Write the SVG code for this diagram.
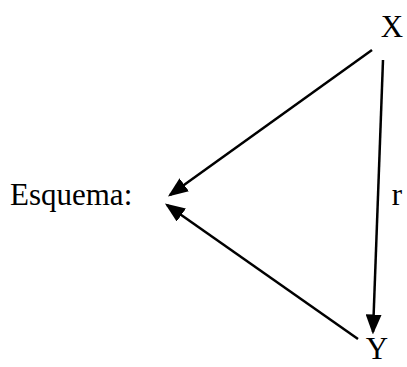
<svg xmlns="http://www.w3.org/2000/svg" width="407" height="367" viewBox="0 0 407 367">
<defs>
<style>
text{font-family:"Liberation Serif","Times New Roman",serif;font-size:31px;fill:#000}
.c{stroke:#000;stroke-width:2.5;fill:none}
</style>
<marker id="ah" markerWidth="8" markerHeight="6.4" refX="7" refY="3.2" orient="auto" markerUnits="strokeWidth">
<path d="M0,0 L8,3.2 L0,6.4 Z" fill="#000"/>
</marker>
</defs>
<rect width="407" height="367" fill="#fff"/>
<g id="X"><text x="392" y="37" text-anchor="middle">X</text></g>
<g id="Y"><text x="377" y="359" text-anchor="middle">Y</text></g>
<g id="Esquema"><text x="10" y="205">Esquema:</text></g>
<g id="r"><text x="397" y="205" text-anchor="middle">r</text></g>
<g id="connectors">
<line class="c" x1="372" y1="50" x2="170" y2="195" marker-end="url(#ah)"/>
<line class="c" x1="358" y1="339" x2="167" y2="205" marker-end="url(#ah)"/>
<line class="c" x1="383" y1="60" x2="373" y2="332" marker-end="url(#ah)"/>
</g>
</svg>
